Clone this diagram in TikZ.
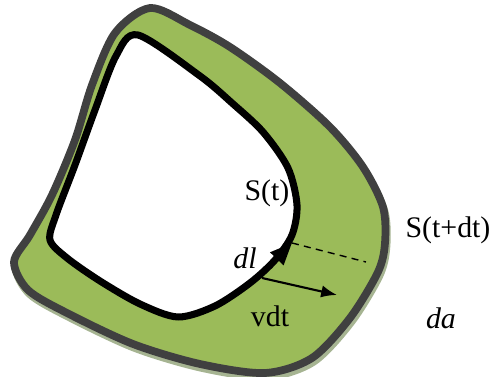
\documentclass[tikz,border=0pt]{standalone}
\usepackage{fontspec}
\setmainfont{Liberation Serif}
\usetikzlibrary{arrows.meta}
\definecolor{bandgreen}{HTML}{9BBB59}
\definecolor{bandgray}{HTML}{404040}
\definecolor{shadegreen}{HTML}{A6B492}

\begin{document}
\begin{tikzpicture}[
  x=0.02cm, y=-0.02cm,
  outerband/.style={draw=bandgray, line width=4.4pt, fill=bandgreen, line join=round},
  innerband/.style={draw=black, line width=4pt, fill=white, line join=round},
  lbl/.style={font=\fontsize{17}{20}\selectfont, inner sep=0pt},
  >=Latex
]
\useasboundingbox (0,0) rectangle (495,377);

% ---- outer curve S(t+dt) with its shadow ----
\path[preaction={draw=shadegreen, line width=4.4pt, transform canvas={shift={(0.8pt,-2.2pt)}}}, outerband]
  plot[smooth cycle, tension=0.5] coordinates {
    (150,8) (190,25) (230,47) (280,83) (330,127) (363,167) (383,207)
    (385,243) (378,272) (350,318) (312,358) (265,373) (200,364) (133,344)
    (67,313) (28,290) (14,262) (30,235) (52,195) (75,140) (92,85) (115,33)};

% ---- inner curve S(t) ----
\path[innerband]
  plot[smooth cycle, tension=0.5] coordinates {
    (138,35) (200,76) (232,103) (263,132) (288,168) (297,205) (292,235)
    (275,260) (250,283) (215,306) (178,317) (140,304) (100,281) (67,258)
    (50,240) (56,215) (75,165) (95,110) (116,56)};

% ---- element dl, normal step vdt ----
\coordinate (dlfoot) at (268,268);
\coordinate (dltip) at (292,243);
\coordinate (vfoot) at (262,278);
\coordinate (vtip) at (337,295);
\coordinate (dashend) at (366,262);

\draw[line width=2.4pt, -{Triangle[length=12.5pt, width=10pt]}] (dlfoot) -- (dltip);
\draw[line width=1.2pt, -{Latex[length=9pt, width=7pt]}] (vfoot) -- (vtip);
\draw[line width=0.8pt, dash pattern=on 4pt off 3pt] (dltip) -- (dashend);

% ---- labels ----
\node[lbl] (st) at (267,193) {S(t)};
\node[lbl] (stdt) at (448,230) {S(t+dt)};
\node[lbl] (dl) at (245,258) {\textit{dl}};
\node[lbl] (vdt) at (270,316) {vdt};
\node[lbl] (da) at (441,318) {\textit{da}};

\end{tikzpicture}
\end{document}
